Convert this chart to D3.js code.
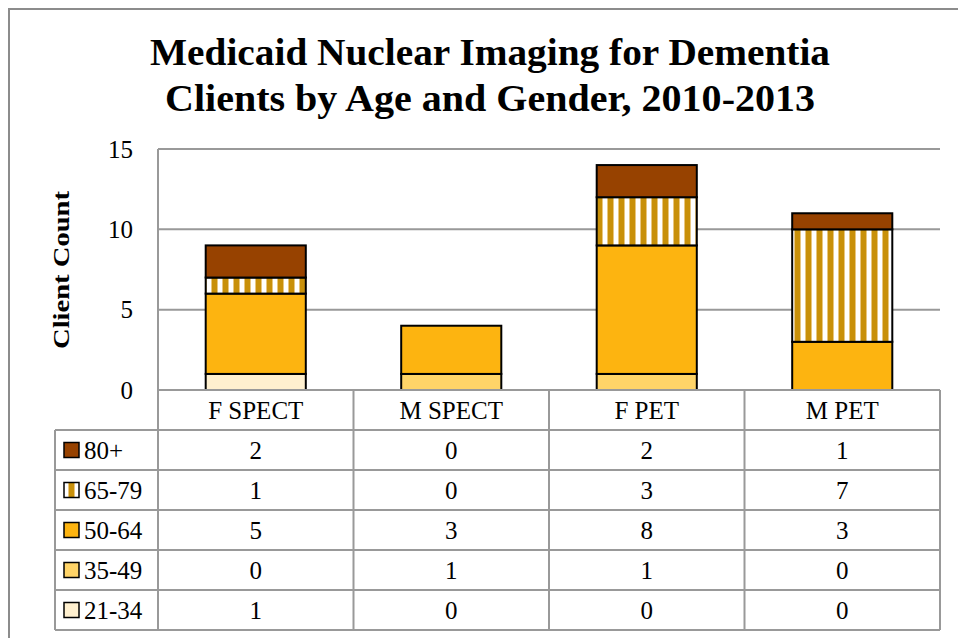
<!DOCTYPE html>
<html>
<head>
<meta charset="utf-8">
<script src="https://cdn.jsdelivr.net/npm/d3@7"></script>
<style>
  body { margin: 0; background: #fff; }
  svg text { font-family: "Liberation Serif", "DejaVu Serif", serif !important; fill: #000; }
</style>
</head>
<body>
<script>
var svgWidth = 958;
var svgHeight = 638;

// data
var categories = ["F SPECT", "M SPECT", "F PET", "M PET"];
var ageGroups = ["21-34", "35-49", "50-64", "65-79", "80+"];
var age21_34 = [1, 0, 0, 0];
var age35_49 = [0, 1, 1, 0];
var age50_64 = [5, 3, 8, 3];
var age65_79 = [1, 0, 3, 7];
var age80plus = [2, 0, 2, 1];
var yTicks = [0, 5, 10, 15];

var seriesValues = {
    "21-34": age21_34,
    "35-49": age35_49,
    "50-64": age50_64,
    "65-79": age65_79,
    "80+": age80plus
};

var fills = {
    "21-34": "#fff0cf",
    "35-49": "#ffd468",
    "50-64": "#fdb410",
    "65-79": "url(#stripes)",
    "80+": "#974200"
};

var plot = { left: 158, right: 940, top: 149, bottom: 390 };
var rowH = 40;
var fontSize = "25px";

var svg = d3.select("body")
    .append("svg")
    .attr("width", svgWidth)
    .attr("height", svgHeight);

// stripe pattern for 65-79
var defs = svg.append("defs");
var pat = defs.append("pattern")
    .attr("id", "stripes")
    .attr("patternUnits", "userSpaceOnUse")
    .attr("width", 11)
    .attr("height", 10);
pat.append("rect").attr("width", 11).attr("height", 10).attr("fill", "#fff");
pat.append("rect").attr("x", 2).attr("width", 7).attr("height", 10).attr("fill", "#e8c680");
pat.append("rect").attr("x", 3).attr("width", 5).attr("height", 10).attr("fill", "#c8900a");

// outer chart border
svg.append("rect")
    .attr("x", 9).attr("y", 9)
    .attr("width", 1000).attr("height", 700)
    .attr("fill", "none")
    .attr("stroke", "#8c8c8c")
    .attr("stroke-width", 2);

// title
var title = svg.append("text")
    .attr("text-anchor", "middle")
    .style("font-weight", "bold")
    .style("font-size", "37px");
title.append("tspan").attr("x", 490).attr("y", 65)
    .attr("textLength", 680).attr("lengthAdjust", "spacingAndGlyphs")
    .text("Medicaid Nuclear Imaging for Dementia");
title.append("tspan").attr("x", 490).attr("y", 111)
    .attr("textLength", 650).attr("lengthAdjust", "spacingAndGlyphs")
    .text("Clients by Age and Gender, 2010-2013");

// scales
var x = d3.scaleBand()
    .domain(categories)
    .range([plot.left, plot.right])
    .paddingInner(0.488)
    .paddingOuter(0.244);

var xCol = d3.scaleBand()
    .domain(categories)
    .range([plot.left, plot.right]);

var y = d3.scaleLinear()
    .domain([0, 15])
    .range([plot.bottom, plot.top]);

// gridlines
svg.append("g")
    .selectAll("line")
    .data(yTicks.filter(d => d > 0))
    .enter()
    .append("line")
    .attr("x1", plot.left).attr("x2", plot.right)
    .attr("y1", d => y(d)).attr("y2", d => y(d))
    .attr("stroke", "#999")
    .attr("stroke-width", 2);

// y axis line
svg.append("line")
    .attr("x1", plot.left).attr("x2", plot.left)
    .attr("y1", plot.top).attr("y2", plot.bottom)
    .attr("stroke", "#999")
    .attr("stroke-width", 2);

// y tick labels
var leftAxis = d3.axisLeft(y).tickValues(yTicks).tickSize(0).tickPadding(25);
var yAxisG = svg.append("g")
    .attr("transform", `translate(${plot.left}, 0)`)
    .call(leftAxis);
yAxisG.select(".domain").remove();
yAxisG.selectAll("text")
    .style("font-size", fontSize)
    .attr("fill", "#000");

// y axis title
svg.append("text")
    .attr("transform", "translate(69, 270) rotate(-90)")
    .attr("text-anchor", "middle")
    .attr("textLength", 158)
    .attr("lengthAdjust", "spacingAndGlyphs")
    .style("font-weight", "bold")
    .style("font-size", "23px")
    .text("Client Count");

// stacked bars
var tableRows = categories.map(function(c, i) {
    var row = { category: c };
    ageGroups.forEach(function(g) { row[g] = seriesValues[g][i]; });
    return row;
});
var stacked = d3.stack().keys(ageGroups)(tableRows);

var barsG = svg.append("g");
stacked.forEach(function(layer) {
    barsG.selectAll(null)
        .data(layer.filter(d => d[1] - d[0] > 0))
        .enter()
        .append("rect")
        .attr("x", d => x(d.data.category))
        .attr("width", x.bandwidth())
        .attr("y", d => y(d[1]))
        .attr("height", d => y(d[0]) - y(d[1]))
        .attr("fill", fills[layer.key])
        .attr("stroke", "#000")
        .attr("stroke-width", 2);
});

// data table
var tableG = svg.append("g");
var legendLeft = 55;
var rowOrder = ageGroups.slice().reverse();
var tableTop = plot.bottom;
var tableBottom = tableTop + rowH * (rowOrder.length + 1);

// horizontal lines
var hLines = d3.range(rowOrder.length + 2).map(i => tableTop + i * rowH);
tableG.selectAll(".hline")
    .data(hLines)
    .enter()
    .append("line")
    .attr("x1", (d, i) => i === 0 ? plot.left : legendLeft)
    .attr("x2", plot.right)
    .attr("y1", d => d).attr("y2", d => d)
    .attr("stroke", "#999")
    .attr("stroke-width", 2);

// vertical lines
var vLines = categories.map(c => xCol(c)).concat([plot.right]);
tableG.selectAll(".vline")
    .data(vLines)
    .enter()
    .append("line")
    .attr("x1", d => d).attr("x2", d => d)
    .attr("y1", tableTop).attr("y2", tableBottom)
    .attr("stroke", "#999")
    .attr("stroke-width", 2);
tableG.append("line")
    .attr("x1", legendLeft).attr("x2", legendLeft)
    .attr("y1", tableTop + rowH).attr("y2", tableBottom)
    .attr("stroke", "#999")
    .attr("stroke-width", 2);

// category header
tableG.selectAll(".cat")
    .data(categories)
    .enter()
    .append("text")
    .attr("x", d => xCol(d) + xCol.bandwidth() / 2)
    .attr("y", tableTop + rowH / 2)
    .attr("dy", "0.35em")
    .attr("text-anchor", "middle")
    .style("font-size", fontSize)
    .text(d => d);

// rows
rowOrder.forEach(function(g, r) {
    var cy = tableTop + rowH * (r + 1) + rowH / 2;
    tableG.append("rect")
        .attr("x", 64).attr("y", cy - 7.5)
        .attr("width", 15).attr("height", 15)
        .attr("fill", fills[g])
        .attr("stroke", "#000")
        .attr("stroke-width", 1.5);
    tableG.append("text")
        .attr("x", 84).attr("y", cy)
        .attr("dy", "0.35em")
        .style("font-size", fontSize)
        .text(g);
    tableG.selectAll(null)
        .data(seriesValues[g])
        .enter()
        .append("text")
        .attr("x", (d, i) => xCol(categories[i]) + xCol.bandwidth() / 2)
        .attr("y", cy)
        .attr("dy", "0.35em")
        .attr("text-anchor", "middle")
        .style("font-size", fontSize)
        .text(d => d);
});
</script>
</body>
</html>
